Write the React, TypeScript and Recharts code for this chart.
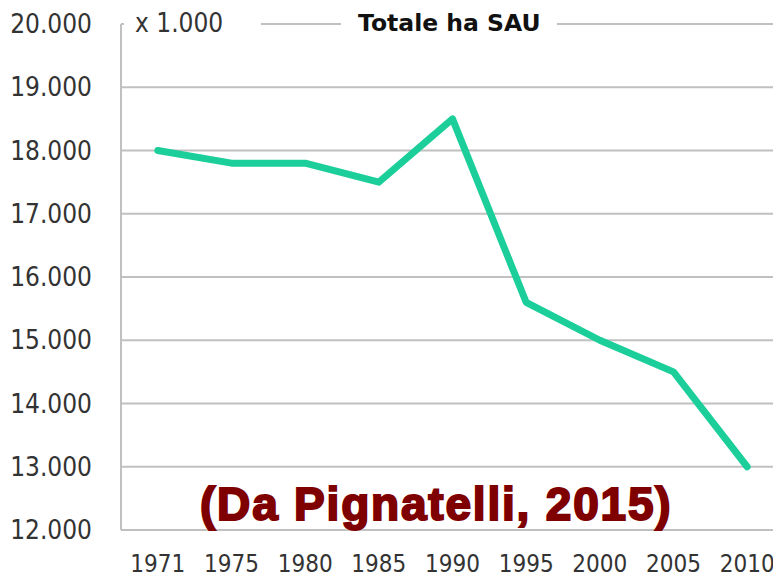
import { LineChart, Line, XAxis, YAxis, CartesianGrid, Legend } from "recharts";

const years = ["1971", "1975", "1980", "1985", "1990", "1995", "2000", "2005", "2010"];
const sau = [18000, 17800, 17800, 17500, 18500, 15600, 15000, 14500, 13000];
const yTicks = [12000, 13000, 14000, 15000, 16000, 17000, 18000, 19000, 20000];

// points sit in the middle of each year slot, tick marks go between slots
const data = years.map((year, i) => ({ pos: i + 0.5, year, sau: sau[i] }));
const labelTicks = data.map((d) => d.pos);
const slotTicks = years.map((_, i) => i).concat(years.length);

const fmt = (v: number) => v.toLocaleString("de-DE");
const yFont = { fontFamily: "DejaVu Sans Condensed", fontSize: 26, fill: "#333" };
const xFont = { fontFamily: "DejaVu Sans Condensed", fontSize: 24, fill: "#333" };

function LegendBox() {
  return (
    <div
      style={{
        display: "inline-block",
        background: "#fff",
        padding: "0 16px 0 17px",
        fontFamily: "DejaVu Sans",
        fontWeight: "bold",
        fontSize: 23.5,
        color: "#111",
        lineHeight: "30px",
      }}
    >
      Totale ha SAU
    </div>
  );
}

export default function App() {
  return (
    <div style={{ margin: -8, width: 781, height: 580, overflow: "hidden", position: "relative", background: "#fff" }}>
      <LineChart width={800} height={580} data={data} margin={{ top: 24, right: 16, bottom: 0, left: 0 }}>
        <CartesianGrid vertical={false} stroke="#c0c0c0" strokeWidth={2} />
        <XAxis
          xAxisId="slots"
          dataKey="pos"
          type="number"
          domain={[0, years.length]}
          ticks={slotTicks}
          tick={false}
          tickSize={11}
          height={1}
          stroke="#c0c0c0"
          strokeWidth={2}
        />
        <XAxis
          xAxisId="labels"
          dataKey="pos"
          type="number"
          domain={[0, years.length]}
          ticks={labelTicks}
          tickFormatter={(v: number) => years[Math.floor(v)]}
          axisLine={false}
          tickLine={false}
          tickSize={0}
          tickMargin={25}
          height={49}
          tick={xFont}
        />
        <YAxis
          domain={[12000, 20000]}
          ticks={yTicks}
          tickFormatter={fmt}
          width={121}
          tickLine={false}
          tickSize={0}
          tickMargin={29}
          stroke="#c0c0c0"
          strokeWidth={2}
          tick={yFont}
        />
        <Legend
          verticalAlign="middle"
          align="center"
          layout="horizontal"
          content={() => <LegendBox />}
          wrapperStyle={{ top: 8, left: 341, width: "auto" }}
        />
        <Line
          xAxisId="labels"
          dataKey="sau"
          stroke="#1ccf9a"
          strokeWidth={7}
          strokeLinecap="round"
          strokeLinejoin="round"
          dot={false}
          isAnimationActive={false}
        />
      </LineChart>
      <div
        style={{
          position: "absolute",
          top: 8,
          left: 124,
          padding: "0 38px 0 11px",
          background: "#fff",
          fontFamily: "DejaVu Sans Condensed",
          fontSize: 26,
          color: "#333",
          lineHeight: "30px",
        }}
      >
        x 1.000
      </div>
      <div
        style={{
          position: "absolute",
          top: 474,
          left: 200,
          fontFamily: "Liberation Sans",
          fontWeight: "bold",
          fontSize: 46,
          letterSpacing: 1.8,
          lineHeight: "60px",
          color: "#7f0000",
          whiteSpace: "nowrap",
          WebkitTextStroke: "2px #7f0000",
          textShadow: "0 0 3px #fff, 0 0 3px #fff",
        }}
      >
        (Da Pignatelli, 2015)
      </div>
    </div>
  );
}
